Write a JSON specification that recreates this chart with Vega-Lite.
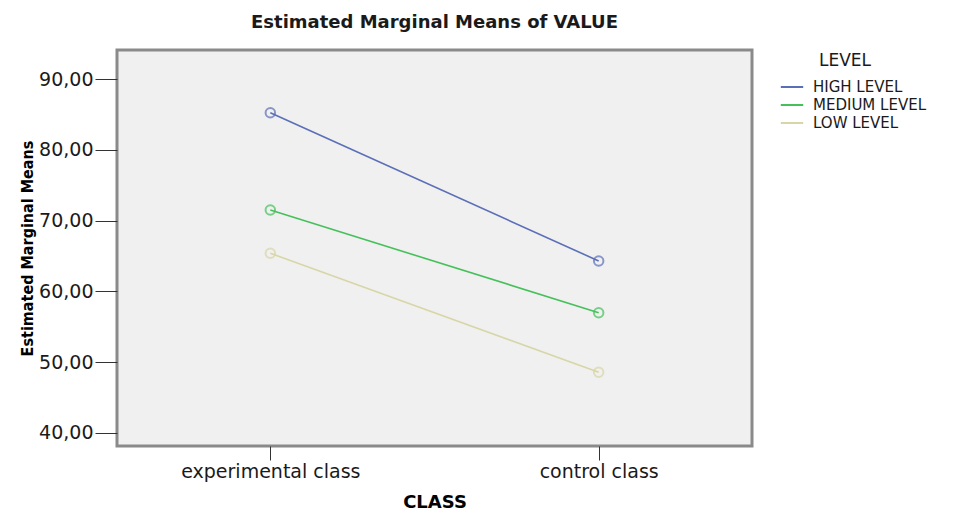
{
  "$schema": "https://vega.github.io/schema/vega-lite/v6.json",
  "width": 635,
  "height": 396,
  "autosize": "none",
  "padding": {"left": 117, "top": 50, "right": 219, "bottom": 66},
  "background": "white",
  "title": {
    "text": "Estimated Marginal Means of VALUE",
    "font": "DejaVu Sans",
    "fontSize": 18,
    "fontWeight": "bold",
    "color": "#1a1a1a",
    "anchor": "middle",
    "offset": 18
  },
  "data": {
    "values": [
      {"CLASS": "experimental class", "LEVEL": "HIGH LEVEL", "VALUE": 85.27},
      {"CLASS": "control class", "LEVEL": "HIGH LEVEL", "VALUE": 64.31},
      {"CLASS": "experimental class", "LEVEL": "MEDIUM LEVEL", "VALUE": 71.52},
      {"CLASS": "control class", "LEVEL": "MEDIUM LEVEL", "VALUE": 57.0},
      {"CLASS": "experimental class", "LEVEL": "LOW LEVEL", "VALUE": 65.4},
      {"CLASS": "control class", "LEVEL": "LOW LEVEL", "VALUE": 48.58}
    ]
  },
  "encoding": {
    "x": {
      "field": "CLASS",
      "type": "nominal",
      "sort": ["experimental class", "control class"],
      "scale": {"type": "point", "padding": 0.467},
      "axis": {
        "title": "CLASS",
        "titleFont": "DejaVu Sans",
        "titleFontSize": 18,
        "titleFontWeight": 900,
        "titleColor": "#000",
        "titlePadding": 12,
        "labelAngle": 0,
        "labelFont": "DejaVu Sans",
        "labelFontSize": 19,
        "labelColor": "#1a1a1a",
        "labelPadding": 2,
        "domain": false,
        "ticks": true,
        "tickSize": 14,
        "tickColor": "#333",
        "tickWidth": 1,
        "grid": false
      }
    },
    "y": {
      "field": "VALUE",
      "type": "quantitative",
      "scale": {"domain": [38.16, 94.13], "nice": false, "zero": false},
      "axis": {
        "title": "Estimated Marginal Means",
        "titleFont": "DejaVu Sans Condensed, Liberation Sans Narrow, sans-serif",
        "titleFontSize": 16,
        "titleFontWeight": "bold",
        "titleColor": "#000",
        "titlePadding": 3,
        "values": [40, 50, 60, 70, 80, 90],
        "labelExpr": "replace(format(datum.value, '.2f'), '.', ',')",
        "labelFont": "DejaVu Sans",
        "labelFontSize": 19,
        "labelColor": "#1a1a1a",
        "labelPadding": 2,
        "domain": false,
        "tickSize": 22,
        "tickColor": "#333",
        "tickWidth": 1,
        "grid": false
      }
    },
    "color": {
      "field": "LEVEL",
      "type": "nominal",
      "sort": ["HIGH LEVEL", "MEDIUM LEVEL", "LOW LEVEL"],
      "scale": {
        "domain": ["HIGH LEVEL", "MEDIUM LEVEL", "LOW LEVEL"],
        "range": ["#5b6fb8", "#45c05a", "#d8d6a6"]
      },
      "legend": {
        "title": "LEVEL",
        "orient": "none",
        "legendX": 667,
        "legendY": 3,
        "titleFont": "DejaVu Sans",
        "titleFontSize": 17,
        "titleFontWeight": "normal",
        "titleColor": "#1a1a1a",
        "titlePadding": 9,
        "labelFont": "DejaVu Sans",
        "labelFontSize": 15,
        "labelColor": "#1a1a1a",
        "labelOffset": 13,
        "symbolType": "M-1.6,0H1.6",
        "symbolSize": 196,
        "symbolStrokeWidth": 2,
        "rowPadding": 2,
        "encode": {
          "title": {"update": {"dx": {"value": 35}}}
        }
      }
    }
  },
  "layer": [
    {"mark": {"type": "line", "strokeWidth": 1.6}},
    {"mark": {"type": "point", "shape": "circle", "filled": false, "size": 90, "strokeWidth": 2}}
  ],
  "config": {
    "view": {"fill": "#f0f0f0", "stroke": "#8a8a8a", "strokeWidth": 3}
  }
}
